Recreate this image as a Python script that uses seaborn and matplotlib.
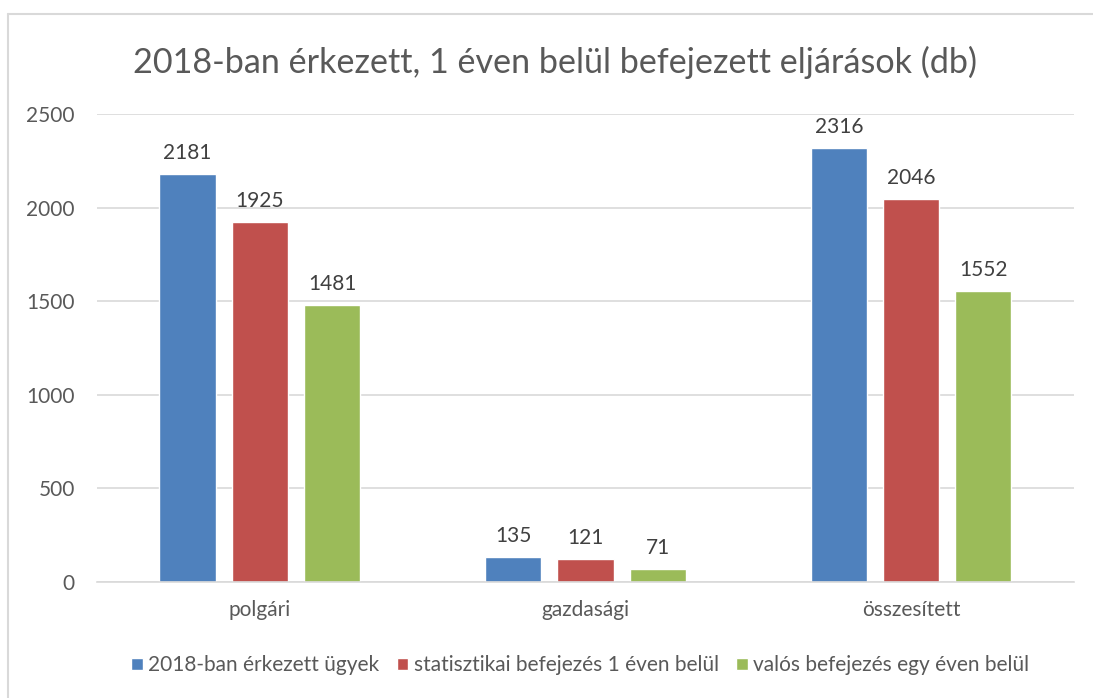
import numpy as np
import pandas as pd
import matplotlib
matplotlib.use('Agg')
import matplotlib.pyplot as plt
import seaborn as sns

# data
categories = ['polgári', 'gazdasági', 'összesített']
series_names = ['2018-ban érkezett ügyek',
                'statisztikai befejezés 1 éven belül',
                'valós befejezés egy éven belül']
erkezett = [2181, 135, 2316]
statisztikai = [1925, 121, 2046]
valos = [1481, 71, 1552]
y_ticks = [0, 500, 1000, 1500, 2000, 2500]

colours = ['#4F81BD', '#C0504D', '#9BBB59']

rows = []
for name, vals in zip(series_names, [erkezett, statisztikai, valos]):
    for cat, v in zip(categories, vals):
        rows.append({'kategória': cat, 'db': v, 'sorozat': name})
df = pd.DataFrame(rows)

sns.set_theme(style='white')
plt.rcParams['font.family'] = ['Lato', 'DejaVu Sans']

fig = plt.figure(figsize=(10.93, 6.98), dpi=100)
ax = fig.add_axes([0.0887, 0.1662, 0.8939, 0.6705])

sns.barplot(data=df, x='kategória', y='db', hue='sorozat', palette=colours,
            width=0.665, gap=0.22, saturation=1, ax=ax)

for cont in ax.containers:
    ax.bar_label(cont, padding=8, fontsize=15, color='#404040')

ax.set_ylim(0, 2500)
ax.set_xlim(-0.5, 2.5)
ax.set_yticks(y_ticks)
ax.yaxis.grid(True, color='#D9D9D9', linewidth=1.2)
ax.set_axisbelow(True)
for s in ['top', 'right', 'left']:
    ax.spines[s].set_visible(False)
ax.spines['bottom'].set_color('#D9D9D9')
ax.spines['bottom'].set_linewidth(1.2)
ax.tick_params(axis='y', length=0, pad=16, labelsize=15, labelcolor='#595959')
ax.tick_params(axis='x', length=0, pad=13, labelsize=15, labelcolor='#595959')
ax.set_xlabel('')
ax.set_ylabel('')

fig.suptitle('2018-ban érkezett, 1 éven belül befejezett eljárások (db)',
             x=0.508, y=0.911, va='center', fontsize=24.6, color='#595959')

handles, labels = ax.get_legend_handles_labels()
ax.legend(handles, labels, loc='center', bbox_to_anchor=(0.531, 0.047),
          bbox_transform=fig.transFigure, ncol=3, frameon=False,
          fontsize=15, labelcolor='#595959', handlelength=0.55,
          handleheight=0.55, handletextpad=0.25, columnspacing=0.85)

# light frame of the chart area
fig.add_artist(plt.Line2D([8 / 1093, 1], [1 - 14 / 698, 1 - 14 / 698],
                          transform=fig.transFigure, color='#D9D9D9', linewidth=1.5))
fig.add_artist(plt.Line2D([8 / 1093, 8 / 1093], [0, 1 - 14 / 698],
                          transform=fig.transFigure, color='#D9D9D9', linewidth=1.5))

fig.savefig('out.png', dpi=100)
